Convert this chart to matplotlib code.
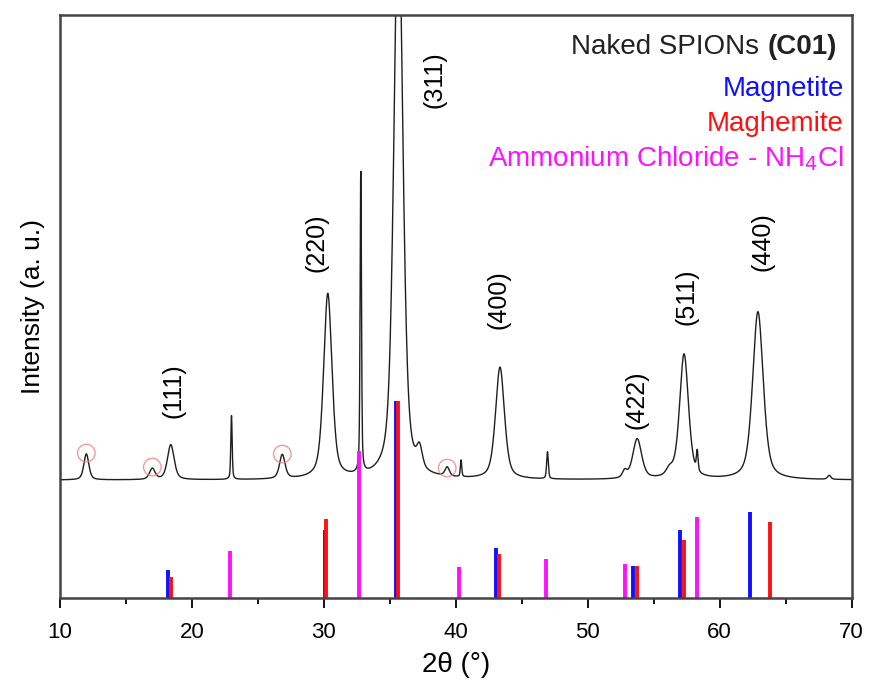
import numpy as np
import matplotlib.pyplot as plt

plt.rcParams['font.family'] = ['Liberation Sans', 'DejaVu Sans']

# XRD pattern, peaks: position (deg), height above baseline, fwhm
baseline = 118.
peak_pos = [12.0, 17.0, 18.4, 23.0, 26.85, 30.3, 32.8, 35.65, 37.25, 39.35,
            40.4, 43.35, 46.95, 52.8, 53.75, 56.2, 57.3, 58.3, 62.9, 68.3]
peak_hgt = [26, 11, 35, 64, 24, 185, 305, 580, 20, 9,
            17, 112, 27, 7, 40, 7, 125, 20, 168, 4]
peak_fwhm = [0.45, 0.5, 0.6, 0.12, 0.5, 0.75, 0.12, 0.8, 0.5, 0.4,
             0.12, 0.8, 0.15, 0.4, 0.8, 0.6, 0.8, 0.15, 0.95, 0.3]

# impurity peaks marked with circles
circ_x = [12.0, 17.0, 26.85, 39.35]
circ_y = [145, 131, 144, 130]

# reference sticks
magnetite_x = [18.2, 30.05, 35.45, 43.08, 53.45, 56.97, 62.33]
magnetite_h = [28, 68, 197, 50, 32, 68, 86]
maghemite_x = [18.38, 30.2, 35.65, 43.28, 53.75, 57.3, 63.84]
maghemite_h = [21, 79, 197, 44, 32, 58, 76]
nh4cl_x = [22.88, 32.65, 40.25, 46.87, 52.8, 58.28]
nh4cl_h = [47, 147, 31, 39, 34, 81]

hkl = ['(111)', '(220)', '(311)', '(400)', '(422)', '(511)', '(440)']
hkl_x = [18.6, 29.45, 38.4, 43.26, 53.7, 57.5, 63.26]
hkl_y = [207, 355, 518, 298, 198, 301, 356]

# build the pattern (pseudo-Voigt sum)
tt = np.linspace(10, 70, 3000)
inten = np.full_like(tt, baseline)
for p, h, w in zip(peak_pos, peak_hgt, peak_fwhm):
    g = np.exp(-4*np.log(2)*((tt-p)/w)**2)
    l = 1/(1 + 4*((tt-p)/w)**2)
    inten += h*(0.5*g + 0.5*l)

fig = plt.figure(figsize=(8.69, 6.89), dpi=100)
ax = fig.add_axes([0.069, 0.132, 0.911, 0.846])

ax.plot(tt, inten, color='#1e1e1e', lw=1.0)
ax.scatter(circ_x, circ_y, s=160, facecolors='none', edgecolors='#f08080', linewidths=1.0, alpha=0.8, zorder=3)

ax.vlines(magnetite_x, 0, magnetite_h, color='#1010ff', lw=2.8)
ax.vlines(maghemite_x, 0, maghemite_h, color='#ff1010', lw=2.8)
ax.vlines(nh4cl_x, 0, nh4cl_h, color='#ff10ff', lw=2.8)

for lab, x, y in zip(hkl, hkl_x, hkl_y):
    ax.text(x, y, lab, rotation=90, ha='center', va='center', fontsize=18)

# sample name: regular part + bold part
fs = 20
bold = ax.text(0.981, 0.945, '(C01)', transform=ax.transAxes, ha='right', va='center',
               fontsize=fs, fontweight='bold', color='#222222')
fig.canvas.draw()
wb = bold.get_window_extent(fig.canvas.get_renderer()).width / ax.bbox.width
ax.text(0.981 - wb, 0.945, 'Naked SPIONs ', transform=ax.transAxes, ha='right', va='center',
        fontsize=fs, color='#222222')

ax.text(0.99, 0.874, 'Magnetite', transform=ax.transAxes, ha='right', va='center', fontsize=fs, color='#1010ff')
ax.text(0.99, 0.814, 'Maghemite', transform=ax.transAxes, ha='right', va='center', fontsize=fs, color='#ff1010')
ax.text(0.99, 0.754, 'Ammonium Chloride - NH$_4$Cl', transform=ax.transAxes, ha='right', va='center',
        fontsize=fs, color='#ff10ff')

ax.set_xlim(10, 70)
ax.set_ylim(0, 583)
ax.set_xticks(np.arange(10, 71, 10))
ax.set_xticks(np.arange(15, 70, 10), minor=True)
ax.set_yticks([])
ax.tick_params(axis='x', which='major', length=7, width=1.3, labelsize=16, pad=10, direction='out')
ax.tick_params(axis='x', which='minor', length=4, width=1.3, direction='out')
for s in ax.spines.values():
    s.set_linewidth(1.8)
    s.set_color('#444444')
ax.set_xlabel('2θ (°)', fontsize=20, labelpad=7)
ax.set_ylabel('Intensity (a. u.)', fontsize=19, labelpad=11)

fig.savefig('out.png', dpi=100)
